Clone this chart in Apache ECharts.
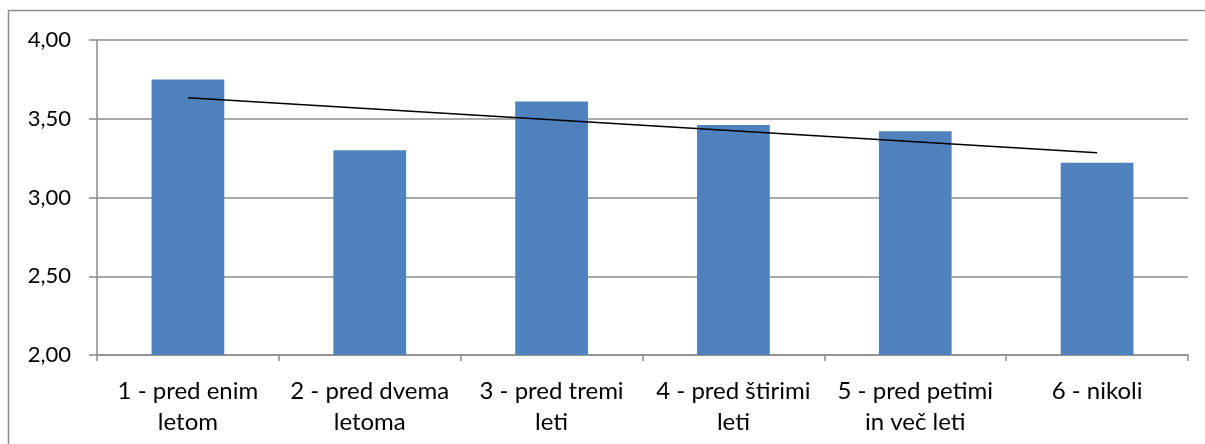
<!DOCTYPE html>
<html>
<head>
<meta charset="utf-8">
<script src="https://cdn.jsdelivr.net/npm/echarts@6/dist/echarts.min.js"></script>
<style>
  html, body { margin: 0; padding: 0; background: #fff; }
  #chart { width: 1205px; height: 444px; }
</style>
</head>
<body>
<div id="chart"></div>
<script>
// Categories: time since the last event
const categories = [
  '1 - pred enim\nletom',
  '2 - pred dvema\nletoma',
  '3 - pred tremi\nleti',
  '4 - pred štirimi\nleti',
  '5 - pred petimi\nin več leti',
  '6 - nikoli'
];
// Average score per category
const averages = [3.75, 3.30, 3.61, 3.46, 3.42, 3.22];
// Linear trend line, value at first and last category
const trendEnds = [3.634, 3.284];
// Y axis range and step
const yRange = [2, 4];
const yStep = 0.5;

const font = 'Lato, "Open Sans", sans-serif';
const gray = '#8c8c8c';

const chart = echarts.init(document.getElementById('chart'), null, { renderer: 'canvas' });
chart.setOption({
  animation: false,
  backgroundColor: '#fff',
  graphic: [{
    type: 'rect',
    shape: { x: 8.5, y: 10.5, width: 1400, height: 600 },
    style: { fill: 'none', stroke: gray, lineWidth: 1.5 },
    silent: true
  }],
  grid: { left: 97, right: 17, top: 40, bottom: 89, containLabel: false },
  xAxis: {
    type: 'category',
    data: categories,
    axisLine: { show: true, lineStyle: { color: gray, width: 1.5 } },
    axisTick: { show: true, alignWithLabel: false, length: 6, lineStyle: { color: gray, width: 1.5 } },
    axisLabel: {
      color: '#000', fontFamily: font, fontSize: 24, lineHeight: 31,
      margin: 21, interval: 0
    },
    splitLine: { show: false }
  },
  yAxis: {
    type: 'value',
    min: yRange[0], max: yRange[1], interval: yStep,
    axisLine: { show: true, lineStyle: { color: gray, width: 1.5 } },
    axisTick: { show: true, length: 8, lineStyle: { color: gray, width: 1.5 } },
    axisLabel: {
      color: '#000', fontFamily: font, fontSize: 22, margin: 26,
      formatter: v => v.toFixed(2).replace('.', ',')
    },
    splitLine: { show: true, lineStyle: { color: gray, width: 1.5 } }
  },
  series: [
    {
      type: 'bar',
      data: averages,
      barWidth: '40%',
      itemStyle: { color: '#4F81BD' },
      z: 2
    },
    {
      type: 'line',
      data: [[categories[0], trendEnds[0]], [categories[categories.length - 1], trendEnds[1]]],
      showSymbol: false,
      symbol: 'none',
      lineStyle: { color: '#000', width: 1.5 },
      z: 3
    }
  ]
});
</script>
</body>
</html>
